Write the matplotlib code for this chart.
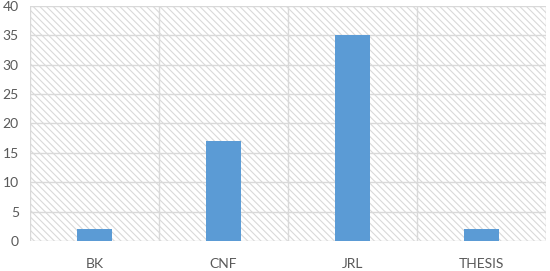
import matplotlib
matplotlib.use("Agg")
import matplotlib.pyplot as plt
from matplotlib.patches import Rectangle

categories = ["BK", "CNF", "JRL", "THESIS"]
counts = [2, 17, 35, 2]
yticks = [0, 5, 10, 15, 20, 25, 30, 35, 40]

plt.rcParams["font.family"] = ["Lato", "DejaVu Sans"]
plt.rcParams["hatch.color"] = "#d9d9d9"
plt.rcParams["hatch.linewidth"] = 0.8

fig = plt.figure(figsize=(5.5, 2.71), dpi=100)
ax = fig.add_axes([0.0545, 0.111, 0.9385, 0.867])

# hatched plot-area background
bg = Rectangle((0, 0), 1, 1, transform=ax.transAxes, facecolor="white",
               edgecolor="#d9d9d9", hatch="\\\\\\\\\\", linewidth=0, zorder=0)
ax.add_patch(bg)

x = list(range(len(categories)))
ax.bar(x, counts, width=0.27, color="#5b9bd5", zorder=3)

ax.set_xlim(-0.5, len(categories) - 0.5)
ax.set_ylim(0, 40)
ax.set_yticks(yticks)
ax.set_xticks(x)
ax.set_xticklabels(categories)

# category boundaries
for b in [i - 0.5 for i in range(len(categories) + 1)]:
    ax.axvline(b, color="#d9d9d9", linewidth=1, zorder=1)
for t in yticks:
    ax.axhline(t, color="#d9d9d9", linewidth=1, zorder=1)

for s in ax.spines.values():
    s.set_visible(False)
ax.tick_params(length=0, labelsize=10, colors="#595959")
ax.tick_params(axis="x", pad=12)
ax.tick_params(axis="y", pad=8)

fig.savefig("out.png", dpi=100)
